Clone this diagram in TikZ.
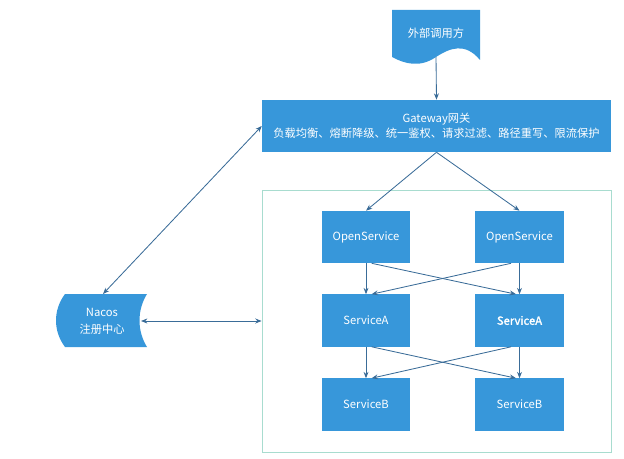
\documentclass[tikz,border=0pt]{standalone}
\usepackage{fontspec}
\setmainfont{Noto Sans CJK SC}[AutoFakeBold=1.6]
\usepackage{tikz}
\usetikzlibrary{arrows.meta,positioning,calc}
\definecolor{boxBlue}{HTML}{3797DA}
\definecolor{lineBlue}{HTML}{3A6C98}
\definecolor{frameGreen}{HTML}{A8DCCF}

\begin{document}
\begin{tikzpicture}[x=0.025cm,y=-0.025cm,
  font=\fontsize{8}{10.5}\selectfont,
  svc/.style={fill=boxBlue, text=white, minimum width=2.2cm, minimum height=1.3cm, align=center, inner sep=0pt},
  gate/.style={svc, minimum width=8.72cm},
  link/.style={draw=lineBlue, line width=0.6pt, -{Stealth[length=4.5pt,width=3.5pt]}},
  both/.style={link, {Stealth[length=4.5pt,width=3.5pt]}-{Stealth[length=4.5pt,width=3.5pt]}}]
\useasboundingbox (0,0) rectangle (624,459);
% caller (document shape)
\fill[boxBlue] (392,10) -- (480,10) -- (480,60)
  .. controls (465,42) and (450,48) .. (436,57)
  .. controls (420,68) and (405,64) .. (392,57) -- cycle;
\node[text=white] (ext) at (436,33) {外部调用方};
\coordinate (extb) at (436,57);
% gateway
\node[gate] (gw) at (436.5,126) {Gateway网关\\负载均衡、熔断降级、统一鉴权、请求过滤、路径重写、限流保护};
% service frame
\node[draw=frameGreen, line width=0.6pt, minimum width=8.72cm, minimum height=6.55cm, inner sep=0pt] (grp) at (436.5,321) {};
% services
\node[svc] (o1) at (366,237) {OpenService};
\node[svc] (o2) at (519.5,237) {OpenService};
\node[svc] (a1) at (366,320.5) {ServiceA};
\node[svc] (a2) at (519.5,320.5) {\bfseries ServiceA};
\node[svc] (b1) at (366,404.5) {ServiceB};
\node[svc] (b2) at (519.5,404.5) {ServiceB};
% registry (stored data shape)
\fill[boxBlue] (65,294) -- (147,294)
  .. controls (137,310) and (137,331) .. (147,347) -- (65,347)
  .. controls (53,331) and (53,310) .. (65,294) -- cycle;
\node[text=white, align=center, font=\fontsize{8}{12}\selectfont] (nacos) at (102,321) {Nacos\\注册中心};
\coordinate (nacost) at (103,294);
\coordinate (nacosr) at (141,321);
% connectors
\draw[link] (extb) -- (gw.north);
\draw[link] (gw.south) -- (o1.north);
\draw[link] (gw.south) -- (o2.north);
\draw[both] (nacost) -- (gw.west);
\draw[both] (nacosr) -- (grp.west);
\foreach \u/\v in {o1/a1,a1/b1}{
  \draw[link] (\u.south) -- (\v.north);
  \draw[link] ([xshift=4]\u.south) -- ([xshift=-2.5]o2.south |- \v.north);
}
\foreach \u/\v in {o2/a2,a2/b2}{
  \draw[link] (\u.south) -- (\v.north);
  \draw[link] ([xshift=-6]\u.south) -- ([xshift=4]o1.north |- \v.north);
}
\end{tikzpicture}
\end{document}
